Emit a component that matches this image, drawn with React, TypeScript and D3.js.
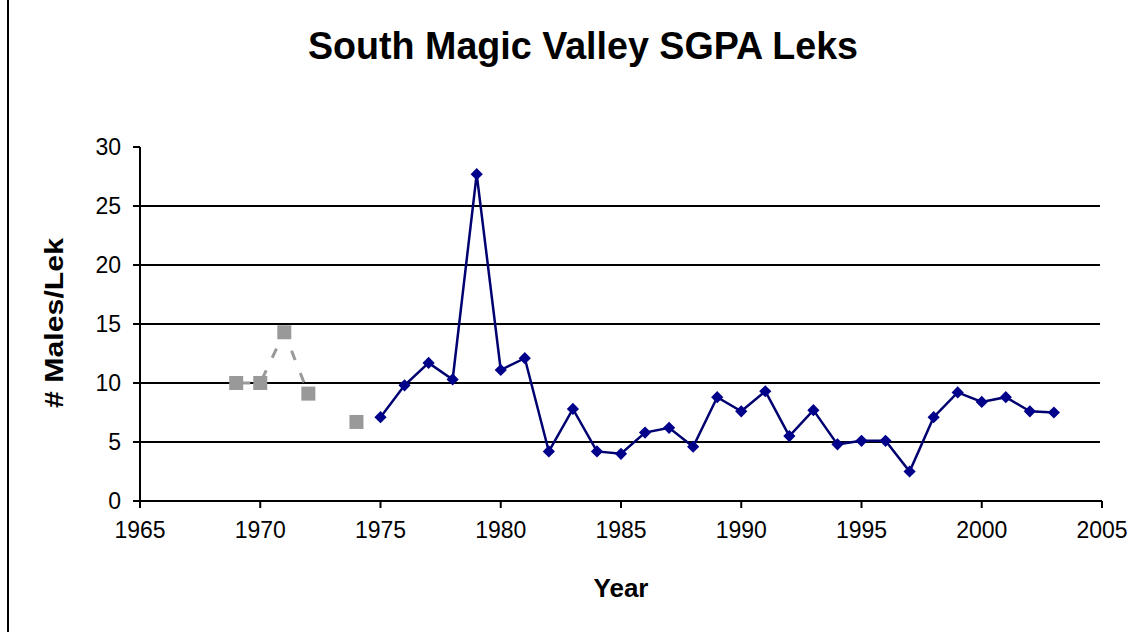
import React from 'react';
import * as d3 from 'd3';

// Blue series (1975-2003)
const blueYears = [1975, 1976, 1977, 1978, 1979, 1980, 1981, 1982, 1983, 1984, 1985, 1986, 1987, 1988, 1989, 1990, 1991, 1992, 1993, 1994, 1995, 1996, 1997, 1998, 1999, 2000, 2001, 2002, 2003];
const blueValues = [7.1, 9.8, 11.7, 10.3, 27.7, 11.1, 12.1, 4.2, 7.8, 4.2, 4.0, 5.8, 6.2, 4.6, 8.8, 7.6, 9.3, 5.5, 7.7, 4.8, 5.1, 5.1, 2.5, 7.1, 9.2, 8.4, 8.8, 7.6, 7.5];

// Gray series (early counts, 1973 missing)
const grayYears = [1969, 1970, 1971, 1972, 1973, 1974];
const grayValues: (number | null)[] = [10, 10, 14.3, 9.1, null, 6.7];

const xTicks = [1965, 1970, 1975, 1980, 1985, 1990, 1995, 2000, 2005];
const yTicks = [0, 5, 10, 15, 20, 25, 30];

const W = 1146;
const H = 636;
const font = 'Arial, "Liberation Sans", sans-serif';

export default function App() {
  const x = d3.scaleLinear().domain([1965, 2005]).range([140, 1102]);
  const y = d3.scaleLinear().domain([0, 30]).range([501, 147]);

  const blue = blueYears.map((yr, i) => ({ yr, v: blueValues[i] }));
  const gray = grayYears.map((yr, i) => ({ yr, v: grayValues[i] }));

  const line = d3.line<{ yr: number; v: number | null }>()
    .defined(d => d.v !== null)
    .x(d => x(d.yr))
    .y(d => y(d.v as number));

  const diamond = d3.symbol().type(d3.symbolDiamond2).size(95)();

  return (
    <div style={{ position: 'absolute', left: 0, top: 0 }}>
      <svg width={W} height={H} style={{ display: 'block', background: '#fff' }} fontFamily={font}>
        <line x1={8} x2={8} y1={0} y2={632} stroke="#000" strokeWidth={2} />

        <text x={583} y={59} textAnchor="middle" fontSize={38} fontWeight="bold" textLength={550} lengthAdjust="spacingAndGlyphs">
          South Magic Valley SGPA Leks
        </text>

        {/* gridlines */}
        {yTicks.filter(t => t > 0 && t < 30).map(t => (
          <line key={'g' + t} x1={x(1965)} x2={1100} y1={y(t)} y2={y(t)} stroke="#000" strokeWidth={2} />
        ))}

        {/* y axis */}
        <line x1={x(1965)} x2={x(1965)} y1={y(30)} y2={y(0)} stroke="#000" strokeWidth={2} />
        {yTicks.map(t => (
          <g key={'y' + t}>
            <line x1={x(1965) - 7} x2={x(1965)} y1={y(t)} y2={y(t)} stroke="#000" strokeWidth={2} />
            <text x={121} y={y(t) + 8} textAnchor="end" fontSize={23}>{t}</text>
          </g>
        ))}

        {/* x axis */}
        <line x1={x(1965)} x2={x(2005)} y1={y(0)} y2={y(0)} stroke="#000" strokeWidth={2} />
        {xTicks.map(t => (
          <g key={'x' + t}>
            <line x1={x(t)} x2={x(t)} y1={y(0)} y2={y(0) + 7} stroke="#000" strokeWidth={2} />
            <text x={x(t)} y={538} textAnchor="middle" fontSize={23}>{t}</text>
          </g>
        ))}

        <text x={621} y={597} textAnchor="middle" fontSize={26} fontWeight="bold">Year</text>
        <text transform="translate(63,323) rotate(-90)" textAnchor="middle" fontSize={25} fontWeight="bold" textLength={170} lengthAdjust="spacingAndGlyphs">
          # Males/Lek
        </text>

        {/* gray series */}
        <path d={line(gray) ?? ''} fill="none" stroke="#999" strokeWidth={3} strokeDasharray="10,14" strokeDashoffset={-4} />
        {gray.filter(d => d.v !== null).map(d => (
          <rect key={'r' + d.yr} x={x(d.yr) - 7} y={y(d.v as number) - 7} width={14} height={14} fill="#999" />
        ))}

        {/* blue series */}
        <path d={line(blue) ?? ''} fill="none" stroke="#000070" strokeWidth={2.5} />
        {blue.map(d => (
          <path key={'d' + d.yr} d={diamond ?? ''} transform={`translate(${x(d.yr)},${y(d.v)})`} fill="#00008b" />
        ))}
      </svg>
    </div>
  );
}
